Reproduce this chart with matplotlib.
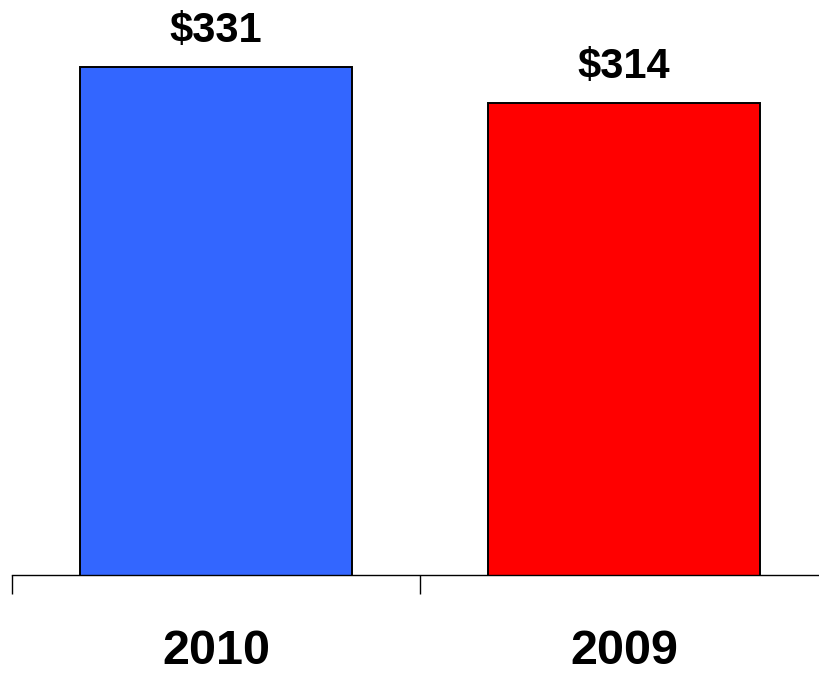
import matplotlib
matplotlib.use("Agg")
import matplotlib.pyplot as plt

years = ["2010", "2009"]
values = [331, 314]
bar_colors = ["#3366FF", "#FF0000"]

plt.rcParams['font.family'] = ['Liberation Sans', 'DejaVu Sans']

fig = plt.figure(figsize=(8.2, 6.74), dpi=100)
# axes spans x 12..828 px, y 575..20 px
ax = fig.add_axes([12 / 820, (674 - 575) / 674, 816 / 820, 555 / 674])

xpos = list(range(len(years)))
bars = ax.bar(xpos, values, width=0.667, color=bar_colors,
              edgecolor="black", linewidth=1.4, zorder=2)

ax.set_xlim(-0.5, 1.5)
ax.set_ylim(91, 353)

for s in ["top", "right", "left"]:
    ax.spines[s].set_visible(False)
ax.spines["bottom"].set_linewidth(1.0)
ax.set_yticks([])

# boundary ticks between categories
ax.set_xticks([-0.5, 0.5, 1.5])
ax.set_xticklabels([])
ax.tick_params(axis="x", which="major", direction="out", length=14, width=1)
# labels on minor ticks at the bar centres
ax.set_xticks(xpos, minor=True)
ax.set_xticklabels(years, minor=True, fontsize=35, fontweight="bold")
ax.tick_params(axis="x", which="minor", length=0, pad=39)

for rect, v in zip(bars, values):
    ax.annotate("${}".format(v),
                xy=(rect.get_x() + rect.get_width() / 2, rect.get_height()),
                xytext=(0, 11), textcoords="offset points",
                ha="center", va="bottom", fontsize=30, fontweight="bold")

fig.savefig("out.png", dpi=100)
